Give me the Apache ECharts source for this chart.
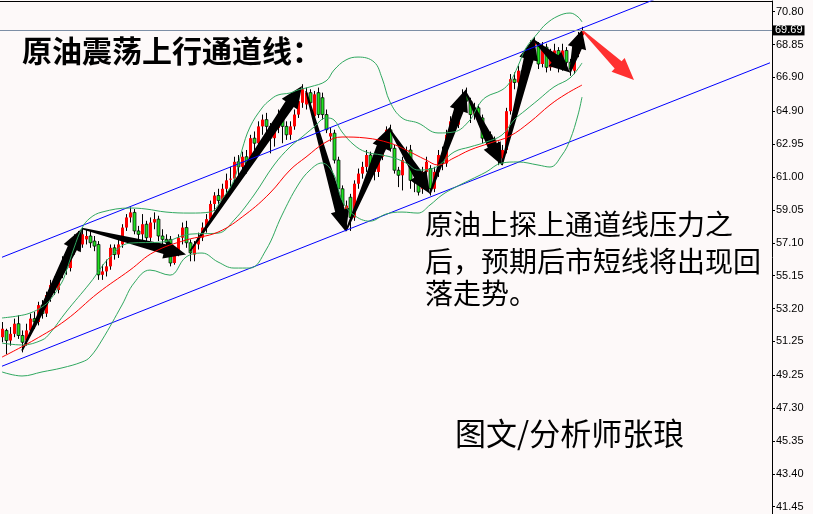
<!DOCTYPE html>
<html><head><meta charset="utf-8">
<script src="https://cdn.jsdelivr.net/npm/echarts@6/dist/echarts.min.js"></script>
<style>html,body{margin:0;padding:0;background:#fdf9f9}#c{width:813px;height:514px}</style>
</head><body><div id="c"></div>
<script>
const categories = Array.from({length: 193}, (_, i) => 'D' + i);
const opens  = [51.5,51.9,51.3,51.7,52.3,51.6,51.3,51.9,52.6,52.4,53.4,52.9,54.0,54.6,54.3,55.3,55.9,55.6,56.7,57.3,57.0,57.3,57.5,57.2,57.0,55.2,55.4,55.7,56.8,56.4,57.0,58.0,58.6,58.9,57.8,57.6,58.2,57.4,58.3,58.5,57.5,57.3,57.3,55.9,56.5,57.4,58.0,57.1,56.4,57.0,57.4,58.0,58.5,59.4,59.9,59.6,60.3,60.9,60.9,61.9,61.6,62.2,61.8,63.3,63.0,64.0,64.4,64.0,63.3,63.9,64.7,64.0,63.5,64.0,64.7,65.4,65.3,66.0,64.6,66.0,65.7,64.7,63.4,63.6,62.0,60.3,59.0,59.8,58.6,60.6,61.2,61.6,62.3,61.3,61.3,62.2,63.2,63.8,62.7,61.4,61.1,62.0,62.6,60.8,60.7,60.3,61.3,61.5,60.3,61.3,62.3,61.8,63.5,64.3,64.1,65.3,65.8,65.5,64.7,65.1,64.5,63.3,63.5,63.2,62.9,62.1,62.6,64.9,66.8,66.6,67.3,67.0,68.0,68.8,68.8,67.7,68.7,67.5,68.3,68.5,67.5,68.5,67.8,67.3,68.3,69.4];
const closes = [52.0,51.3,51.7,52.3,51.6,51.2,51.9,52.6,52.4,53.4,52.9,54.0,54.6,54.3,55.3,55.9,55.6,56.7,57.3,57.0,57.6,57.5,57.1,56.9,55.2,55.4,55.7,56.8,56.4,57.0,58.0,58.6,58.9,57.8,57.6,58.2,57.4,58.3,58.5,57.5,57.3,57.1,55.9,56.5,57.4,58.0,57.1,56.5,57.0,57.4,58.0,58.5,59.4,59.9,59.6,60.3,60.8,60.9,61.9,61.6,62.2,61.8,63.3,63.0,64.0,64.4,64.0,63.3,63.9,64.7,64.0,63.5,64.0,64.7,65.5,66.2,66.0,65.4,65.9,64.7,64.7,63.8,63.6,62.0,60.3,59.3,59.3,58.6,60.6,61.2,61.6,62.3,61.3,61.5,62.2,63.2,63.8,62.7,61.4,61.1,62.0,62.4,60.8,60.7,60.1,61.3,61.9,60.3,61.3,62.3,61.8,63.5,64.3,64.1,65.3,65.8,65.5,64.7,65.1,64.5,63.3,63.5,63.2,62.7,62.1,62.6,64.9,66.8,66.6,67.3,67.0,68.0,68.8,69.0,67.7,68.7,67.5,68.3,68.5,67.5,68.5,67.8,67.4,68.3,69.4,69.69];
const lows   = [51.2,50.5,51.0,51.5,51.4,50.6,51.0,51.6,52.0,52.2,52.6,52.7,53.6,54.0,54.1,55.0,55.2,55.4,56.4,56.6,56.8,57.0,56.8,56.6,54.9,54.9,55.1,55.5,56.1,56.2,56.8,57.8,58.3,57.6,57.2,57.1,57.0,57.2,57.9,57.2,56.9,56.6,55.7,55.8,56.3,57.0,56.8,56.0,56.0,56.7,57.2,57.7,58.3,59.0,59.3,59.4,60.0,60.4,60.7,60.6,61.3,61.2,61.6,62.6,62.8,63.5,63.6,62.4,62.8,63.6,63.0,63.2,63.2,63.8,64.5,65.1,65.0,65.0,64.4,64.5,64.4,63.6,63.1,61.8,60.0,59.0,57.8,57.8,58.4,60.3,60.9,61.3,61.0,60.8,61.0,62.0,62.9,62.5,61.2,60.4,60.2,61.8,60.3,60.1,59.9,60.0,61.0,59.9,60.1,61.0,61.4,61.6,63.2,63.8,63.9,65.0,65.1,64.2,64.4,64.2,63.0,62.9,62.4,62.2,61.7,61.7,62.4,64.7,66.2,66.4,66.7,66.8,67.8,68.5,67.4,67.5,67.2,67.3,68.0,67.2,67.3,67.6,67.0,67.1,68.1,69.2];
const highs  = [52.4,52.0,52.1,52.6,52.8,51.9,52.3,52.9,53.0,53.6,53.7,54.2,54.9,55.1,55.6,56.3,56.4,57.0,57.6,57.8,58.0,57.9,57.8,57.5,57.2,55.8,56.1,57.0,57.0,57.3,58.2,58.8,59.2,59.1,58.1,58.8,58.4,58.6,58.9,58.7,57.9,57.6,57.5,56.8,57.6,58.3,58.4,57.3,57.2,57.7,58.3,58.8,59.6,60.1,60.3,60.6,61.2,61.6,62.2,62.3,62.5,62.6,63.5,63.7,64.3,64.7,64.8,64.2,64.4,65.0,64.9,64.3,64.3,65.0,66.0,66.5,66.3,66.2,66.1,66.3,66.0,65.0,63.9,63.8,62.2,60.5,59.6,60.0,60.8,61.5,61.9,62.6,62.5,61.8,62.4,63.4,64.0,64.1,62.9,61.6,62.2,62.8,62.9,61.2,61.0,61.6,62.2,61.7,61.6,62.6,62.8,63.8,64.6,64.9,65.6,66.2,66.3,65.7,65.4,65.3,64.7,63.8,63.7,63.4,63.1,62.9,65.1,67.1,67.2,67.6,67.6,68.3,69.1,69.3,69.0,69.0,68.9,68.6,68.9,68.7,68.9,68.7,68.0,68.6,69.6,69.9];

const bbUpper = [[0,52.64],[4,52.76],[7,52.93],[10,53.29],[12,53.71],[15,54.77],[16,55.37],[18,56.79],[20,57.97],[22,58.56],[25,58.92],[32,59.16],[36,59.10],[41,58.92],[47,58.86],[52,58.92],[55,59.69],[58,60.82],[60,62.60],[62,63.96],[65,65.09],[67,65.56],[69,65.86],[72,65.98],[74,66.16],[77,66.34],[81,66.69],[83,67.34],[86,67.94],[89,68.11],[93,67.82],[95,66.87],[97,65.45],[100,64.50],[104,64.20],[109,63.61],[113,63.67],[117,64.38],[119,65.21],[121,65.74],[125,66.16],[127,66.63],[129,67.58],[131,68.65],[134,69.54],[136,70.07],[139,70.54],[142,70.72],[144,70.49],[145,70.19]];
const bbMiddle = [[0,51.15],[5,51.04],[10,51.33],[12,51.74],[16,52.99],[22,54.71],[27,56.25],[32,57.08],[40,57.14],[47,57.61],[54,57.67],[58,58.44],[63,59.93],[68,61.71],[72,62.78],[75,63.37],[78,63.96],[81,64.50],[83,64.38],[85,63.67],[88,62.90],[91,62.48],[95,62.30],[98,62.13],[101,61.83],[104,61.41],[108,61.53],[113,62.48],[117,62.78],[121,63.07],[125,63.49],[128,64.38],[131,64.98],[134,65.56],[138,66.34],[142,66.87],[145,67.76]];
const bbLower = [[0,49.44],[5,49.20],[10,49.44],[15,49.68],[20,50.03],[22,50.32],[25,51.33],[30,53.41],[33,54.71],[37,55.48],[42,55.18],[46,56.25],[50,56.49],[54,55.96],[58,55.60],[62,55.60],[66,56.67],[70,58.74],[74,60.52],[77,61.41],[80,61.83],[83,61.12],[85,59.63],[88,58.74],[92,58.38],[96,58.80],[100,58.92],[104,58.86],[107,59.34],[110,59.93],[113,60.35],[117,60.82],[121,61.29],[125,61.83],[129,61.89],[134,61.71],[137,61.59],[140,62.30],[142,63.19],[144,64.68],[145,65.74]];
const maRed = [[0,50.32],[8,51.33],[16,52.52],[24,54.12],[32,55.48],[38,56.55],[46,57.26],[54,57.73],[61,58.80],[67,60.05],[72,61.41],[76,62.18],[81,63.07],[85,63.37],[91,63.31],[97,63.01],[101,62.60],[106,62.01],[109,61.71],[113,62.13],[117,62.60],[122,63.01],[127,63.43],[132,64.26],[137,65.27],[141,65.92],[145,66.45]];
const channelUpper = [[0,56.24],[192,74.23]];
const channelLower = [[0,49.78],[192,67.77]];
const lastPrice = 69.69;
const tickValues = [41.45,43.40,45.35,47.30,49.25,51.25,53.20,55.15,57.10,59.05,61.00,62.95,64.90,66.90,68.85,70.80];
const blackArrows = [[5,50.7,20,57.95],[20,57.95,46,56.4],[47,56.6,75,66.4],[76,66.1,86,57.75],[86,57.8,97,63.96],[97,63.8,107,60.0],[107,60.0,116,66.2],[116,66.0,125,61.7],[125,61.7,133,69.25],[133,69.1,142,67.2],[142,67.2,145,69.72]];
const redArrows = [[145,69.7,158,66.75]];

const candleData = opens.map((o, i) => [i, o, closes[i], lows[i], highs[i]]);

function arrowShape(color) {
  return function (params, api) {
    const a = api.coord([api.value(0), api.value(1)]);
    const b = api.coord([api.value(2), api.value(3)]);
    const dx = b[0]-a[0], dy = b[1]-a[1];
    const len = Math.sqrt(dx*dx+dy*dy);
    const ux = dx/len, uy = dy/len, nx = -uy, ny = ux;
    const hl = Math.min(22, len*0.42), hw = 9.5, sw = 5, tw = 0.8;
    const B = [b[0]-ux*hl, b[1]-uy*hl];
    const pts = [
      [a[0]+nx*tw, a[1]+ny*tw], [B[0]+nx*sw, B[1]+ny*sw], [B[0]+nx*hw, B[1]+ny*hw], b,
      [B[0]-nx*hw, B[1]-ny*hw], [B[0]-nx*sw, B[1]-ny*sw], [a[0]-nx*tw, a[1]-ny*tw]
    ];
    return {type: 'polygon', shape: {points: pts}, style: {fill: color}};
  };
}

const chart = echarts.init(document.getElementById('c'), null, {renderer: 'canvas'});
const lineBase = {type: 'line', symbol: 'none', silent: true, animation: false};
chart.setOption({
  backgroundColor: '#fdf9f9',
  animation: false,
  grid: {left: 0, right: 41, top: 1, bottom: 0},
  xAxis: {type: 'category', data: categories, position: 'top', boundaryGap: true,
    axisLine: {show: true, lineStyle: {color: '#000', width: 1}}, axisTick: {show: false}, axisLabel: {show: false}, splitLine: {show: false}},
  yAxis: {type: 'value', position: 'right', min: 41.017, max: 71.434, scale: true,
    axisLine: {show: true, lineStyle: {color: '#000', width: 1}},
    axisTick: {show: true, length: 3, inside: false, customValues: tickValues, lineStyle: {color: '#000'}},
    axisLabel: {show: true, customValues: tickValues, formatter: v => v.toFixed(2), color: '#000', fontSize: 11, fontFamily: '"Liberation Sans", Arial, sans-serif', margin: 4},
    splitLine: {show: false}},
  series: [
    Object.assign({}, lineBase, {name: 'chU', data: channelUpper, lineStyle: {color: '#0000ff', width: 1}}),
    Object.assign({}, lineBase, {name: 'chL', data: channelLower, lineStyle: {color: '#0000ff', width: 1}}),
    Object.assign({}, lineBase, {name: 'bbU', data: bbUpper, smooth: 0.4, lineStyle: {color: '#30a860', width: 1}}),
    Object.assign({}, lineBase, {name: 'bbM', data: bbMiddle, smooth: 0.4, lineStyle: {color: '#30a860', width: 1}}),
    Object.assign({}, lineBase, {name: 'bbL', data: bbLower, smooth: 0.4, lineStyle: {color: '#30a860', width: 1}}),
    Object.assign({}, lineBase, {name: 'ma', data: maRed, smooth: 0.4, lineStyle: {color: '#ff0000', width: 1},
      markLine: {silent: true, symbol: 'none', animation: false, data: [{yAxis: lastPrice}],
        lineStyle: {color: '#7d8fa6', width: 1, type: 'solid'},
        label: {show: true, position: 'end', formatter: () => lastPrice.toFixed(2), color: '#fff', backgroundColor: '#000', fontSize: 11, fontFamily: '"Liberation Sans", Arial, sans-serif', padding: [0, 2, 0, 2], lineHeight: 10, distance: 1}}}),
    {type: 'custom', name: 'candles', data: candleData, encode: {x: 0, y: [1, 2, 3, 4]}, animation: false,
      renderItem: function (params, api) {
        const i = api.value(0), o = api.value(1), c = api.value(2), l = api.value(3), h = api.value(4);
        const pO = api.coord([i, o]), pC = api.coord([i, c]), pL = api.coord([i, l]), pH = api.coord([i, h]);
        const x = Math.round(pO[0]) + 0.5;
        const top = Math.min(pO[1], pC[1]), bot = Math.max(pO[1], pC[1]);
        const up = c >= o;
        return {type: 'group', children: [
          {type: 'line', shape: {x1: x, y1: pH[1], x2: x, y2: pL[1]}, style: {stroke: '#000', lineWidth: 1}},
          {type: 'rect', shape: {x: x - 1.5, y: top, width: 3, height: Math.max(1, bot - top)},
            style: up ? {fill: '#ff0000'} : {fill: '#22e022', stroke: '#000', lineWidth: 0.7}}
        ]};
      }},
    {type: 'custom', name: 'arrows', data: blackArrows, encode: {x: [0, 2], y: [1, 3]}, animation: false, renderItem: arrowShape('#000')},
    {type: 'custom', name: 'redArrow', data: redArrows, encode: {x: [0, 2], y: [1, 3]}, animation: false, renderItem: arrowShape('#ff3030')}
  ],
  graphic: [
    {type: 'text', left: 22, top: 36, z: 100, style: {text: '原油震荡上行通道线：', font: 'bold 30px "Noto Sans CJK SC"', fill: '#000'}},
    {type: 'text', left: 425, top: 210, z: 100, style: {text: '原油上探上通道线压力之', font: '28px "Noto Sans CJK SC"', fill: '#000'}},
    {type: 'text', left: 425, top: 247, z: 100, style: {text: '后，预期后市短线将出现回', font: '28px "Noto Sans CJK SC"', fill: '#000'}},
    {type: 'text', left: 425, top: 279, z: 100, style: {text: '落走势。', font: '28px "Noto Sans CJK SC"', fill: '#000'}},
    {type: 'text', left: 455, top: 418, z: 100, style: {text: '图文/分析师张琅', font: '31px "Noto Sans CJK SC"', fill: '#000'}}
  ]
});
</script></body></html>
